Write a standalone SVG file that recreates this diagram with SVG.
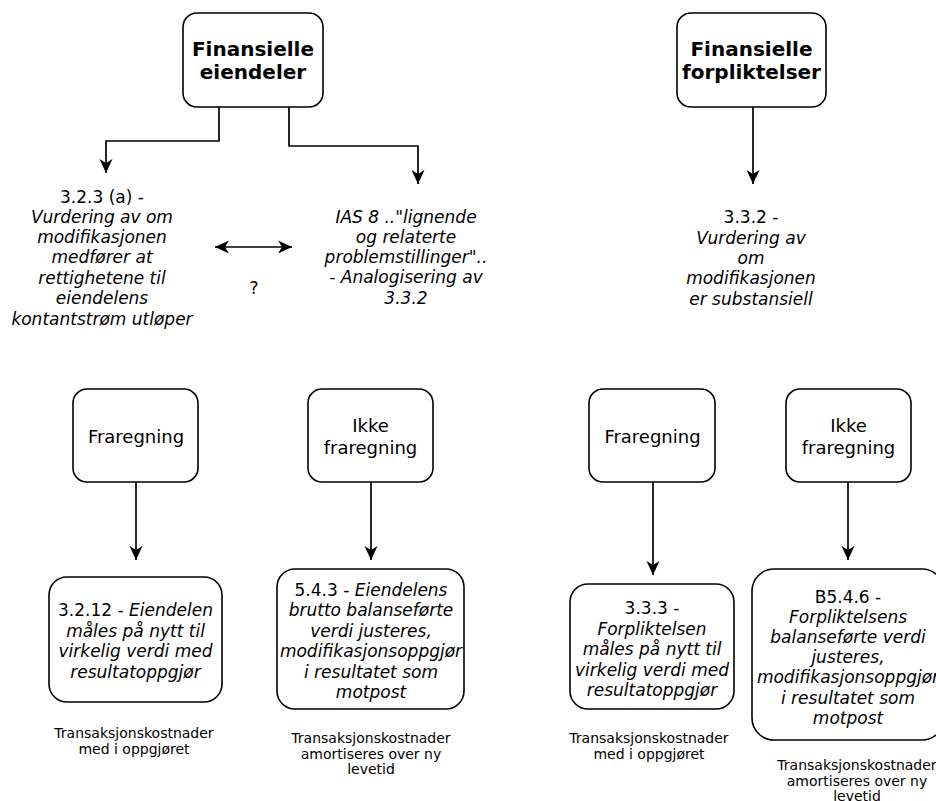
<svg xmlns="http://www.w3.org/2000/svg" width="936" height="801" viewBox="0 0 936 801">
<defs>
<marker id="arr" markerUnits="userSpaceOnUse" markerWidth="18" markerHeight="18" viewBox="-16 -9 18 18" refX="0" refY="0" orient="auto-start-reverse">
<path d="M0,0 L-14,-6.5 L-10,0 L-14,6.5 Z" fill="#000"/>
</marker>
</defs>
<style>
rect{fill:#fff;stroke:#000;stroke-width:1.6}
text{font-family:"DejaVu Sans","Verdana",sans-serif;text-anchor:middle;fill:#000}
.b{font-weight:bold;font-size:20px}
.m{font-size:18px}
.t{font-size:17px}
.s{font-size:14px}
.i{font-style:italic}
#connectors path{fill:none;stroke:#000;stroke-width:1.7;marker-end:url(#arr)}
</style>
<rect x="-10" y="-10" width="960" height="830" style="fill:#fff;stroke:none"/>
<g id="connectors">
<path d="M219,107 V141 H106 V173"/>
<path d="M289,107 V146 H418 V184"/>
<path d="M753,107 V184"/>
<path d="M215,247 H292" style="marker-start:url(#arr)"/>
<path d="M136,482 V560"/>
<path d="M371,482 V560"/>
<path d="M653,482 V575"/>
<path d="M848,482 V560"/>
</g>
<g id="fin-eiendeler">
<rect x="183" y="13" width="140" height="94" rx="14"/>
<text class="b"><tspan x="253" y="56">Finansielle</tspan><tspan x="253" y="79">eiendeler</tspan></text>
</g>
<g id="fin-forpliktelser">
<rect x="677" y="13" width="149" height="94" rx="14"/>
<text class="b"><tspan x="751.5" y="56">Finansielle</tspan><tspan x="751.5" y="79">forpliktelser</tspan></text>
</g>
<g id="n323a">
<text class="t"><tspan x="102" y="203">3.2.3 (a) -</tspan><tspan class="i" x="102" y="223">Vurdering av om</tspan><tspan class="i" x="102" y="243">modifikasjonen</tspan><tspan class="i" x="102" y="263">medfører at</tspan><tspan class="i" x="102" y="284">rettighetene til</tspan><tspan class="i" x="102" y="304">eiendelens</tspan><tspan class="i" x="102" y="325">kontantstrøm utløper</tspan></text>
</g>
<g id="q">
<text class="t" x="254" y="294">?</text>
</g>
<g id="ias8">
<text class="t i"><tspan x="406" y="223">IAS 8 .."lignende</tspan><tspan x="406" y="243">og relaterte</tspan><tspan x="406" y="263">problemstillinger"..</tspan><tspan x="406" y="283">- Analogisering av</tspan><tspan x="406" y="304">3.3.2</tspan></text>
</g>
<g id="n332">
<text class="t"><tspan x="751" y="223">3.3.2 -</tspan><tspan class="i" x="751" y="244">Vurdering av</tspan><tspan class="i" x="751" y="264">om</tspan><tspan class="i" x="751" y="284">modifikasjonen</tspan><tspan class="i" x="751" y="305">er substansiell</tspan></text>
</g>
<g id="fraregning-a">
<rect x="73" y="389" width="125" height="93" rx="14"/>
<text class="m" x="136" y="443">Fraregning</text>
</g>
<g id="ikke-a">
<rect x="308" y="389" width="125" height="93" rx="14"/>
<text class="m"><tspan x="370.5" y="432">Ikke</tspan><tspan x="370.5" y="454">fraregning</tspan></text>
</g>
<g id="fraregning-f">
<rect x="589" y="389" width="126" height="93" rx="14"/>
<text class="m" x="652.5" y="443">Fraregning</text>
</g>
<g id="ikke-f">
<rect x="786" y="389" width="125" height="93" rx="14"/>
<text class="m"><tspan x="848.5" y="432">Ikke</tspan><tspan x="848.5" y="454">fraregning</tspan></text>
</g>
<g id="n3212">
<rect x="49" y="577" width="173" height="125" rx="18"/>
<text class="t"><tspan x="135.5" y="616">3.2.12 - <tspan class="i">Eiendelen</tspan></tspan><tspan class="i" x="135.5" y="637">måles på nytt til</tspan><tspan class="i" x="135.5" y="657">virkelig verdi med</tspan><tspan class="i" x="135.5" y="678">resultatoppgjør</tspan></text>
</g>
<g id="n543">
<rect x="277" y="569" width="187" height="140" rx="18"/>
<text class="t"><tspan x="371" y="596">5.4.3 - <tspan class="i">Eiendelens</tspan></tspan><tspan class="i" x="371" y="616">brutto balanseførte</tspan><tspan class="i" x="371" y="637">verdi justeres,</tspan><tspan class="i" x="371" y="657">modifikasjonsoppgjør</tspan><tspan class="i" x="371" y="678">i resultatet som</tspan><tspan class="i" x="371" y="698">motpost</tspan></text>
</g>
<g id="n333">
<rect x="570" y="584" width="164" height="125" rx="18"/>
<text class="t"><tspan x="652" y="614">3.3.3 -</tspan><tspan class="i" x="652" y="635">Forpliktelsen</tspan><tspan class="i" x="652" y="655">måles på nytt til</tspan><tspan class="i" x="652" y="676">virkelig verdi med</tspan><tspan class="i" x="652" y="696">resultatoppgjør</tspan></text>
</g>
<g id="b546">
<rect x="752" y="569" width="192" height="171" rx="22"/>
<text class="t"><tspan x="848" y="603">B5.4.6 -</tspan><tspan class="i" x="848" y="623">Forpliktelsens</tspan><tspan class="i" x="848" y="643">balanseførte verdi</tspan><tspan class="i" x="848" y="663">justeres,</tspan><tspan class="i" x="848" y="683">modifikasjonsoppgjør</tspan><tspan class="i" x="848" y="704">i resultatet som</tspan><tspan class="i" x="848" y="724">motpost</tspan></text>
</g>
<g id="tk1">
<text class="s"><tspan x="134" y="738">Transaksjonskostnader</tspan><tspan x="134" y="754">med i oppgjøret</tspan></text>
</g>
<g id="tk2">
<text class="s"><tspan x="371" y="743">Transaksjonskostnader</tspan><tspan x="371" y="759">amortiseres over ny</tspan><tspan x="371" y="774">levetid</tspan></text>
</g>
<g id="tk3">
<text class="s"><tspan x="649" y="743">Transaksjonskostnader</tspan><tspan x="649" y="759">med i oppgjøret</tspan></text>
</g>
<g id="tk4">
<text class="s"><tspan x="857" y="770">Transaksjonskostnader</tspan><tspan x="857" y="786">amortiseres over ny</tspan><tspan x="857" y="801">levetid</tspan></text>
</g>
</svg>
